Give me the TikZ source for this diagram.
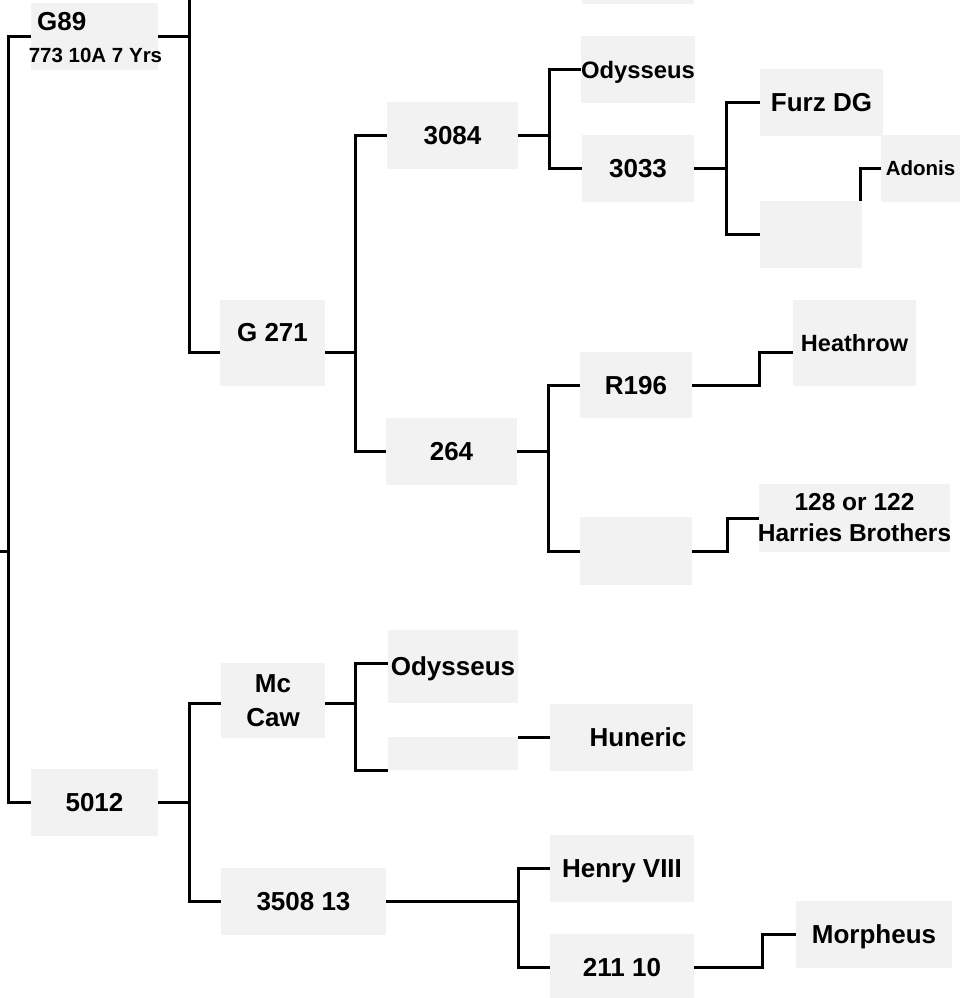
\documentclass[tikz,border=0pt]{standalone}
\usepackage{fontspec}
\setmainfont{Liberation Sans}
\usetikzlibrary{backgrounds}
\definecolor{boxgray}{RGB}{242,242,242}
\newcommand\fnt[1]{\fontsize{#1}{#1}\selectfont\bfseries}
\tikzset{
  box/.style={fill=boxgray, inner sep=0pt, outer sep=0pt, text height=18.6pt, text depth=0pt, font=\fnt{26}},
  lbl/.style={inner sep=0pt, text height=18.6pt, text depth=0pt, font=\fnt{26}},
  small/.style={text height=14.7pt, font=\fnt{20.5}},
  mid/.style={text height=17.5pt, font=\fnt{24.5}},
  conn/.style={line width=3pt, black},
}
\begin{document}
\begin{tikzpicture}[x=1pt,y=-1pt]
\clip (0,0) rectangle (970,998);
% boxes
\node[box,minimum width=127pt,minimum height=67pt] (g89) at (94.5,36.5) {};
\node[box,minimum width=112pt,minimum height=64pt] (topbox) at (638,-28) {};
\node[box,minimum width=105pt,minimum height=86pt] (g271) at (272.5,343) {};
\node[box,minimum width=131pt,minimum height=67pt] (n3084) at (452.5,135.5) {3084};
\node[box,minimum width=112pt,minimum height=67pt,text height=17pt,font=\fnt{23.8}] (odys1) at (638,69.5) {Odysseus};
\node[box,minimum width=112pt,minimum height=67pt] (n3033) at (638,168.5) {3033};
\node[box,minimum width=123pt,minimum height=67pt] (furz) at (821.5,102.5) {Furz DG};
\node[box,minimum width=102pt,minimum height=67pt] (empty1) at (811,234.5) {};
\node[box,minimum width=79pt,minimum height=67pt,text height=14.7pt,font=\fnt{20.5}] (adonis) at (920.5,168.5) {Adonis};
\node[box,minimum width=131pt,minimum height=67pt] (n264) at (451.5,451.5) {264};
\node[box,minimum width=112pt,minimum height=66pt] (r196) at (636,385) {R196};
\node[box,minimum width=112pt,minimum height=68pt] (empty2) at (636,551) {};
\node[box,minimum width=123pt,minimum height=86pt,text height=16.8pt,font=\fnt{23.5}] (heathrow) at (854.5,343) {Heathrow};
\node[box,minimum width=191pt,minimum height=68pt] (n128) at (854.5,518) {};
\node[box,minimum width=104pt,minimum height=75pt] (mccaw) at (273,700.5) {};
\node[box,minimum width=130pt,minimum height=73pt] (odys2) at (453,666.5) {Odysseus};
\node[box,minimum width=130pt,minimum height=33pt] (empty3) at (453,753.5) {};
\node[box,minimum width=143pt,minimum height=67pt] (huneric) at (621.5,737.5) {};
\node[box,minimum width=127pt,minimum height=67pt] (n5012) at (94.5,802.5) {5012};
\node[box,minimum width=165pt,minimum height=67pt] (n3508) at (303.5,901.5) {3508 13};
\node[box,minimum width=144pt,minimum height=67pt] (henry) at (622,868.5) {Henry VIII};
\node[box,minimum width=144pt,minimum height=66pt] (n21110) at (622,967) {211 10};
\node[box,minimum width=156pt,minimum height=67pt] (morph) at (874,934.5) {Morpheus};
% labels placed inside boxes
\node[lbl,anchor=west] (g89a) at ([xshift=6pt,yshift=15.5pt]g89.west) {G89};
\node[lbl,small] (g89b) at ([xshift=1pt,yshift=-18.5pt]g89.center) {773 10A 7 Yrs};
\node[lbl] (g271t) at ([yshift=11pt]g271.center) {G 271};
\node[lbl] (mct) at ([yshift=17.5pt]mccaw.center) {Mc};
\node[lbl] (cawt) at ([yshift=-16.5pt]mccaw.center) {Caw};
\node[lbl,mid] (t128a) at ([yshift=16pt]n128.center) {128 or 122};
\node[lbl,mid] (t128b) at ([yshift=-15pt]n128.center) {Harries Brothers};
\node[lbl] (hunt) at ([xshift=16.5pt]huneric.center) {Huneric};
% free ends
\coordinate (root) at (0,551);
\coordinate (offtop) at (0,-10);
% connectors
\begin{scope}[on background layer]
\draw[conn] (g89.west) -- ++(-23,0) coordinate (j0) |- (n5012.west);
\draw[conn] (root) -- (root -| j0);
\draw[conn] (g89.east) -- ++(31,0) coordinate (j1) |- ([yshift=-9pt]g271.west);
\draw[conn] (j1) -- (j1 |- offtop);
\draw[conn] (n3084.west) -- ++(-32,0) coordinate (j2) |- (n264.west);
\draw[conn] ([yshift=-9pt]g271.east) -- ([yshift=-9pt]g271.east -| j2);
\draw[conn] (odys1.west) -- ++(-32,0) coordinate (j3) |- (n3033.west);
\draw[conn] (n3084.east) -- (n3084.east -| j3);
\draw[conn] (furz.west) -- ++(-34,0) coordinate (j4) |- (empty1.west);
\draw[conn] (n3033.east) -- (n3033.east -| j4);
\draw[conn] ([xshift=-1.5pt]empty1.north east) |- (adonis.west);
\draw[conn] (r196.west) -- ++(-32,0) coordinate (j5) |- (empty2.west);
\draw[conn] (n264.east) -- (n264.east -| j5);
\draw[conn] (r196.east) -- ++(67,0) |- ([yshift=-9pt]heathrow.west);
\draw[conn] (empty2.east) -- ++(35,0) |- (n128.west);
\draw[conn] ([yshift=-2.5pt]mccaw.west) -- ++(-32,0) coordinate (j6) |- (n3508.west);
\draw[conn] (n5012.east) -- (n5012.east -| j6);
\draw[conn] ([yshift=3.5pt]odys2.west) -- ++(-33,0) coordinate (j7) |- (empty3.south west);
\draw[conn] ([yshift=-2.5pt]mccaw.east) -- ([yshift=-2.5pt]mccaw.east -| j7);
\draw[conn] (huneric.west) -- (huneric.west -| empty3.east);
\draw[conn] (henry.west) -- ++(-32,0) coordinate (j8) |- (n21110.west);
\draw[conn] (n3508.east) -- (n3508.east -| j8);
\draw[conn] (n21110.east) -- ++(68,0) |- (morph.west);
\end{scope}
\end{tikzpicture}
\end{document}
